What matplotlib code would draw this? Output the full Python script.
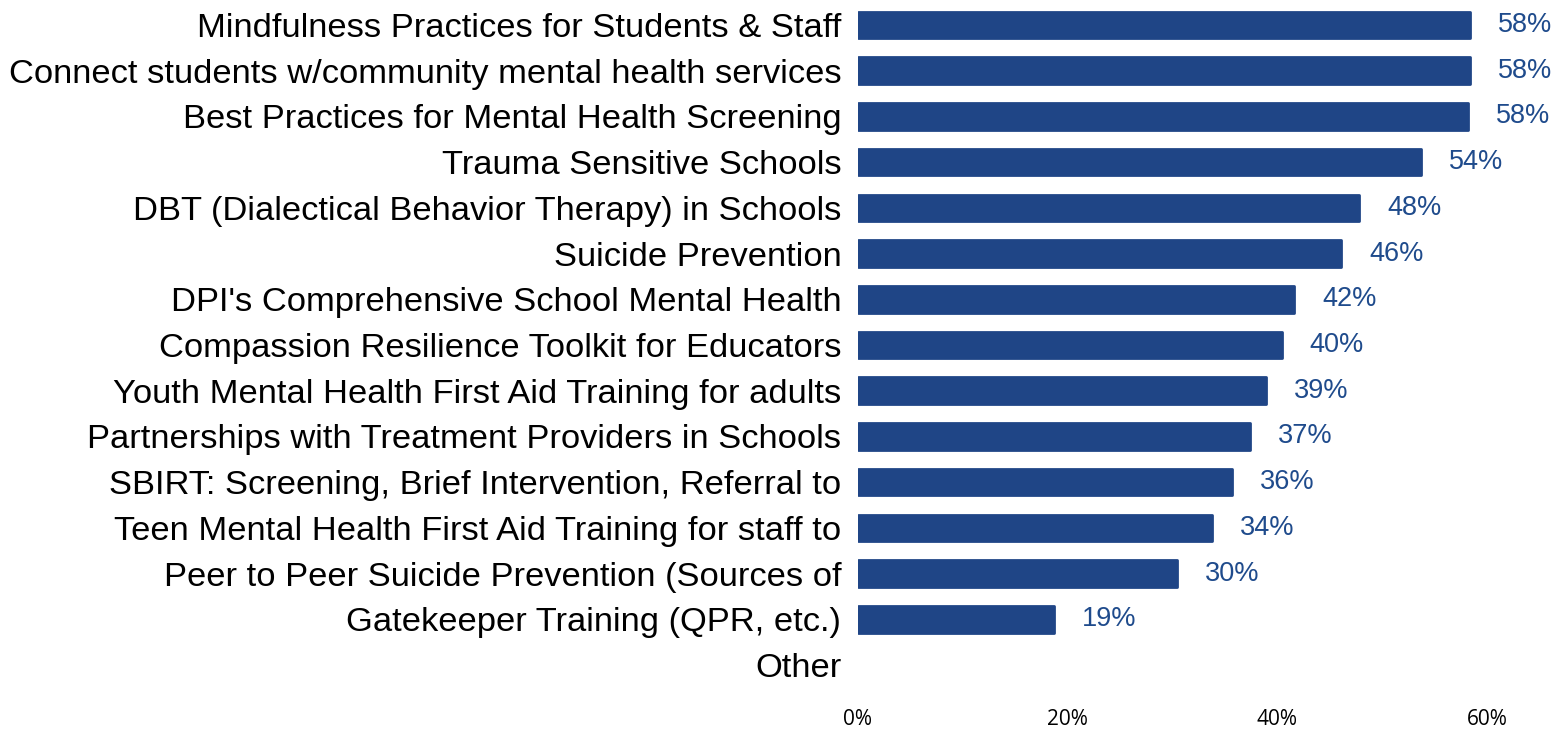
import matplotlib.pyplot as plt

# survey: share of respondents interested in each training topic
topics = [
    "Mindfulness Practices for Students & Staff",
    "Connect students w/community mental health services",
    "Best Practices for Mental Health Screening",
    "Trauma Sensitive Schools",
    "DBT (Dialectical Behavior Therapy) in Schools",
    "Suicide Prevention",
    "DPI's Comprehensive School Mental Health",
    "Compassion Resilience Toolkit for Educators",
    "Youth Mental Health First Aid Training for adults",
    "Partnerships with Treatment Providers in Schools",
    "SBIRT: Screening, Brief Intervention, Referral to",
    "Teen Mental Health First Aid Training for staff to",
    "Peer to Peer Suicide Prevention (Sources of",
    "Gatekeeper Training (QPR, etc.)",
    "Other",
]
pct = [58.4, 58.4, 58.2, 53.7, 47.8, 46.1, 41.6, 40.4, 38.9, 37.4, 35.7, 33.8, 30.4, 18.7, 0.0]
xticks = [0, 20, 40, 60]

bar_color = "#1f4586"
label_color = "#1f4b8c"

fig = plt.figure(figsize=(15.66, 7.34), dpi=100)
ax = fig.add_axes([858 / 1566, 1 - 688 / 734, (1487 - 858) / 1566, 686 / 734])

ypos = list(range(len(topics)))
bars = ax.barh(ypos, pct, height=0.58, color=bar_color, edgecolor=bar_color,
               linewidth=2)
for b, v in zip(bars, pct):
    b.set_joinstyle("round")
    if v == 0:
        b.set_linewidth(0)

for y, v in zip(ypos, pct):
    if v > 0:
        ax.annotate(f"{v:.0f}%", (v, y), xytext=(20, 0), textcoords="offset points",
                    va="center", ha="left", fontsize=19.5, color=label_color,
                    family="Liberation Sans", annotation_clip=False)

ax.set_xlim(0, 60)
ax.set_ylim(len(topics) - 0.5, -0.5)
ax.set_yticks(ypos)
ax.set_yticklabels(topics, fontsize=24.8, family="Liberation Sans")
ax.set_xticks(xticks)
ax.set_xticklabels([f"{t}%" for t in xticks], fontsize=15, family="Open Sans")
ax.tick_params(axis="y", length=0, pad=12)
ax.tick_params(axis="x", length=0, pad=15)
for s in ax.spines.values():
    s.set_visible(False)

fig.savefig("out.png", dpi=100)
